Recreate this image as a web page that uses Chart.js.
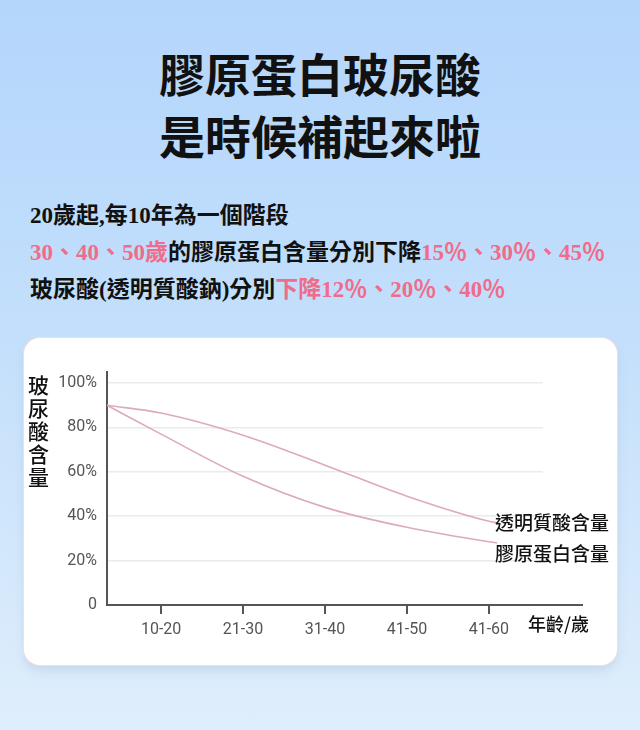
<!DOCTYPE html>
<html lang="zh-Hant">
<head>
<meta charset="UTF-8">
<title>膠原蛋白玻尿酸</title>
<script src="https://cdn.jsdelivr.net/npm/chart.js"></script>
<style>
  html, body { margin: 0; padding: 0; }
  body {
    width: 640px; height: 730px; position: relative; overflow: hidden;
    background: linear-gradient(180deg, #b4d6fb 0%, #c3dffb 45%, #dfeefc 100%);
    font-family: 'Liberation Serif', 'Noto Sans CJK TC', serif;
    color: #111;
  }
  .titulo {
    position: absolute; left: 0; top: 41px; width: 640px; text-align: center;
    font-family: 'Noto Sans CJK TC', sans-serif; font-weight: 700;
    font-size: 46px; line-height: 62px;
  }
  .info {
    position: absolute; left: 30px; top: 197px;
    font-size: 23px; line-height: 37px; font-weight: 700; white-space: nowrap;
  }
  .rosa { color: #f06c8a; }
  #card {
    position: absolute; left: 24px; top: 338px; width: 593px; height: 327px;
    background: #fff; border-radius: 16px;
    box-shadow: 0 0 0 1px #f6dbe4, 0 6px 10px rgba(140,165,200,0.25);
  }
  .ytitulo {
    position: absolute; left: 27px; top: 373px; width: 23px;
    font-family: 'Noto Sans CJK TC', sans-serif; font-weight: 500;
    font-size: 21px; line-height: 23px; text-align: center;
  }
</style>
</head>
<body>
  <div class="titulo">膠原蛋白玻尿酸<br>是時候補起來啦</div>

  <div class="info">
    <div>20歲起,每10年為一個階段</div>
    <div><span class="rosa">30、40、50歲</span>的膠原蛋白含量分別下降<span class="rosa">15％、30％、45％</span></div>
    <div>玻尿酸(透明質酸鈉)分別<span class="rosa">下降12％、20％、40％</span></div>
  </div>

  <div id="card">
    <div style="position: relative; width: 593px; height: 327px;">
      <canvas id="grafico"></canvas>
    </div>
  </div>
  <div class="ytitulo">玻<br>尿<br>酸<br>含<br>量</div>

<script>
  // dados
  const faixas = ['10-20', '21-30', '31-40', '41-50', '41-60']
  const faixasX = [1, 2, 3, 4, 5]
  const pontosX = [0.34, 1, 2, 3, 4, 5, 5.1]
  const hialuronico = [90, 86.5, 76.5, 63, 49, 37.7, 37]
  const colageno = [90, 77, 58, 44, 35, 28.5, 28]
  const yTicks = [0, 20, 40, 60, 80, 100]
  const nomes = ['透明質酸含量', '膠原蛋白含量']
  const tituloX = '年齡/歲'

  const deslocY = [0, 11]  // ajuste vertical dos rótulos no fim das linhas

  const serie = vals => pontosX.map((x, i) => ({ x: x, y: vals[i] }))

  const rotulos = {
    id: 'rotulos',
    afterDraw(chart) {
      const ctx = chart.ctx
      const a = chart.chartArea
      ctx.save()
      // eixo x continua depois da grade
      ctx.strokeStyle = '#555'
      ctx.lineWidth = 2
      ctx.beginPath()
      ctx.moveTo(a.right - 1, a.bottom)
      ctx.lineTo(a.right + 40, a.bottom)
      ctx.stroke()

      ctx.fillStyle = '#111'
      ctx.textBaseline = 'middle'
      ctx.font = "500 19px 'Noto Sans CJK TC'"
      chart.data.datasets.forEach((ds, i) => {
        const pts = chart.getDatasetMeta(i).data
        const ult = pts[pts.length - 1]
        ctx.fillText(ds.label, ult.x - 2, ult.y + deslocY[i])
      })
      ctx.font = "500 18px 'Noto Sans CJK TC'"
      ctx.fillText(tituloX, a.right - 15, a.bottom + 19)
      ctx.restore()
    }
  }

  const ctx = document.getElementById('grafico')

  let grafico = new Chart(ctx, {
    type: 'line',
    data: {
      datasets: [
        { label: nomes[0], data: serie(hialuronico) },
        { label: nomes[1], data: serie(colageno) }
      ]
    },
    options: {
      responsive: true,
      maintainAspectRatio: false,
      animation: false,
      layout: { padding: { top: 34, right: 74, left: 0, bottom: 0 } },
      elements: {
        point: { radius: 0 },
        line: { borderColor: '#dcaabb', borderWidth: 1.6, cubicInterpolationMode: 'monotone' }
      },
      plugins: { legend: { display: false }, tooltip: { enabled: false } },
      scales: {
        x: {
          type: 'linear',
          min: 0.34,
          max: 5.66,
          afterBuildTicks: s => { s.ticks = faixasX.map(v => ({ value: v })) },
          afterFit: s => { s.height = 60 },
          ticks: {
            autoSkip: false,
            padding: 6,
            color: '#555',
            font: { family: 'Roboto', size: 16 },
            callback: v => faixas[faixasX.indexOf(v)]
          },
          grid: { drawOnChartArea: false, drawTicks: true, tickLength: 9, color: '#555', lineWidth: 2 },
          border: { color: '#555', width: 2 }
        },
        y: {
          min: 0,
          max: 105,
          afterBuildTicks: s => { s.ticks = yTicks.map(v => ({ value: v })) },
          afterFit: s => { s.width = 83 },
          ticks: {
            padding: 10,
            color: '#555',
            font: { family: 'Roboto', size: 16 },
            callback: v => v === 0 ? '0' : v + '%'
          },
          grid: {
            drawTicks: false,
            lineWidth: 1.5,
            color: c => c.tick && c.tick.value === 0 ? 'rgba(0,0,0,0)' : '#ebebeb'
          },
          border: { color: '#555', width: 2 }
        }
      }
    },
    plugins: [rotulos]
  })
</script>
</body>
</html>
